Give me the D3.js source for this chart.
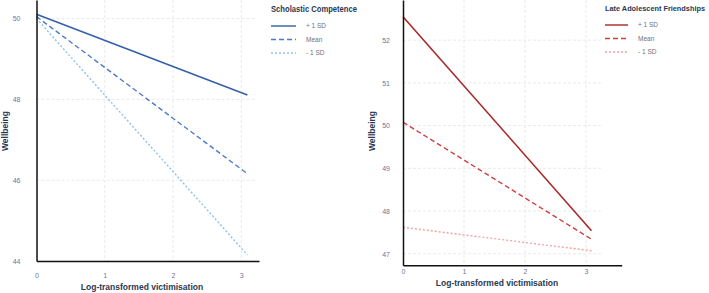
<!DOCTYPE html>
<html>
<head>
<meta charset="utf-8">
<script src="https://cdn.jsdelivr.net/npm/d3@7"></script>
<style>
  body { margin: 0; background: #fff; }
  svg { font-family: 'Liberation Sans', Arial, sans-serif; }
  .tick text { fill: #6b7896; font-size: 7px; }
  .axis-title { fill: #2b3852; font-size: 8.5px; font-weight: bold; }
  .legend-title { fill: #2b3852; font-weight: bold; }
  .legend-label { fill: #6b7280; font-size: 6.5px; }
  .grid line { stroke: #e4e4e4; stroke-width: 0.8; stroke-dasharray: 3,2; }
</style>
</head>
<body>
<div class="container"></div>
<script>
const WIDTH = 709,
    HEIGHT = 293;

// data
const xVals = [0, 3.09];
const levels = ['+ 1 SD', 'Mean', '- 1 SD'];

const scholasticPlus = [50.11, 48.11];
const scholasticMean = [50.05, 46.16];
const scholasticMinus = [50.0, 44.15];
const scholasticYTicks = [44, 46, 48, 50];

const friendPlus = [52.55, 47.54];
const friendMean = [50.08, 47.34];
const friendMinus = [47.62, 47.07];
const friendYTicks = [47, 48, 49, 50, 51, 52];

const xTicks = [0, 1, 2, 3];

const dashes = [null, '5,3', '2,2'];

var svg = d3.select('.container').append('svg')
    .attr('width', WIDTH)
    .attr('height', HEIGHT);

var drawPanel = (cfg) => {
    var x = d3.scaleLinear().domain(cfg.xDomain).range(cfg.xRange);
    var y = d3.scaleLinear().domain(cfg.yDomain).range(cfg.yRange);
    var g = svg.append('g');

    // grid
    var grid = g.append('g').classed('grid', true);
    grid.selectAll('.v').data(xTicks.slice(1)).enter().append('line')
        .attr('x1', x).attr('x2', x)
        .attr('y1', cfg.yRange[1]).attr('y2', cfg.yRange[0]);
    grid.selectAll('.h').data(cfg.yTicks).enter().append('line')
        .attr('x1', cfg.xRange[0]).attr('x2', cfg.gridEnd)
        .attr('y1', y).attr('y2', y);

    // series
    var line = d3.line().x((d) => x(d[0])).y((d) => y(d[1]));
    cfg.series.forEach((vals, i) => {
        g.append('path')
            .attr('d', line(xVals.map((v, j) => [v, vals[j]])))
            .attr('fill', 'none')
            .attr('stroke', cfg.colors[i])
            .attr('stroke-width', i == 0 ? 1.6 : 1.4)
            .attr('stroke-dasharray', dashes[i]);
    });

    // axes
    var xAxis = d3.axisBottom(x).tickValues(xTicks).tickFormat(d3.format('d'))
        .tickSize(0).tickSizeOuter(0).tickPadding(cfg.xPad);
    var yAxis = d3.axisLeft(y).tickValues(cfg.yTicks).tickFormat(d3.format('d'))
        .tickSize(0).tickSizeOuter(0).tickPadding(cfg.yPad);
    var gx = g.append('g').attr('transform', `translate(0,${cfg.yRange[0]})`).call(xAxis);
    var gy = g.append('g').attr('transform', `translate(${cfg.xRange[0]},0)`).call(yAxis);
    [gx, gy].forEach((a) => {
        a.select('.domain').attr('stroke', '#111').attr('stroke-width', 1.5);
        a.selectAll('.tick text').style('font-family', 'inherit');
    });

    g.append('text').classed('axis-title', true)
        .attr('x', cfg.xTitle[0]).attr('y', cfg.xTitle[1])
        .attr('text-anchor', 'middle').text('Log-transformed victimisation');
    g.append('text').classed('axis-title', true)
        .attr('transform', `translate(${cfg.yTitle[0]},${cfg.yTitle[1]}) rotate(-90)`)
        .attr('text-anchor', 'middle').text('Wellbeing');

    // legend
    var lg = g.append('g').attr('transform', `translate(${cfg.legend[0]},${cfg.legend[1]})`);
    lg.append('text').classed('legend-title', true).attr('x', 0).attr('y', 0)
        .style('font-size', cfg.titleSize + 'px')
        .attr('textLength', cfg.titleLen).attr('lengthAdjust', 'spacingAndGlyphs')
        .text(cfg.title);
    levels.forEach((lab, i) => {
        var ly = 14 + i * 13.5;
        lg.append('line')
            .attr('x1', 0).attr('x2', cfg.legendLen)
            .attr('y1', ly).attr('y2', ly)
            .attr('stroke', cfg.colors[i])
            .attr('stroke-width', 1.4)
            .attr('stroke-dasharray', dashes[i]);
        lg.append('text').classed('legend-label', true)
            .attr('x', cfg.legendLen + 10).attr('y', ly + 2.3).text(lab);
    });
};

drawPanel({
    xDomain: [0, 3.26], xRange: [36.5, 259],
    yDomain: [44, 50.46], yRange: [261, 0],
    gridEnd: 256, yTicks: scholasticYTicks,
    xPad: 12, yPad: 16,
    xTitle: [142, 290], yTitle: [8, 131],
    series: [scholasticPlus, scholasticMean, scholasticMinus],
    colors: ['#3460a8', '#4d7cc4', '#8cc2ee'],
    legend: [271, 12], legendLen: 25,
    title: 'Scholastic Competence', titleLen: 86, titleSize: 8.5
});

drawPanel({
    xDomain: [0, 3.585], xRange: [403, 621.7],
    yDomain: [46.73, 52.94], yRange: [265.3, 0],
    gridEnd: 601.7, yTicks: friendYTicks,
    xPad: 4, yPad: 13,
    xTitle: [497, 286], yTitle: [375, 131],
    series: [friendPlus, friendMean, friendMinus],
    colors: ['#a82828', '#cc4040', '#f4a3a3'],
    legend: [605, 11], legendLen: 23,
    title: 'Late Adolescent Friendships', titleLen: 100, titleSize: 7.6
});
</script>
</body>
</html>
